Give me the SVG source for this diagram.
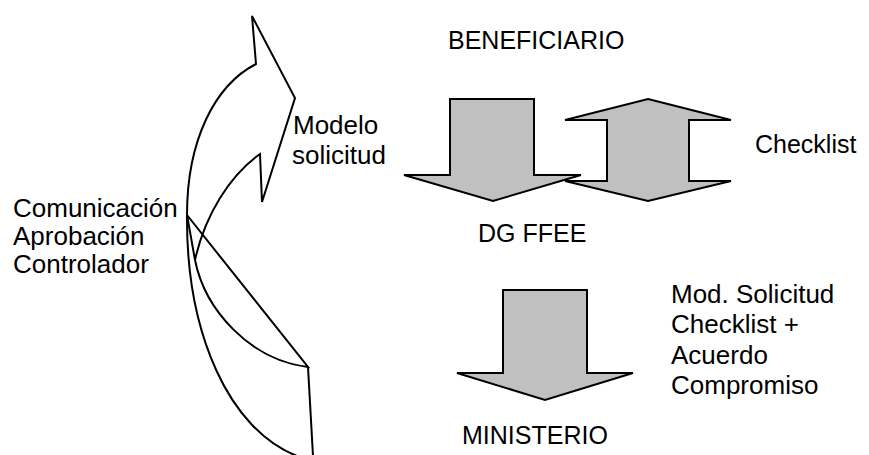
<svg xmlns="http://www.w3.org/2000/svg" width="869" height="455" viewBox="0 0 869 455">
<style>
.t{font-family:"Liberation Sans",Arial,sans-serif;font-size:25px;fill:#000}
.m{font-size:26px}
.blk{fill:#c0c0c0;stroke:#000;stroke-width:2;stroke-linejoin:miter}
.ln{fill:none;stroke:#000;stroke-width:2;stroke-linejoin:miter}
</style>
<rect width="869" height="455" fill="#fff"/>
<g id="curved-arrow">
<path class="ln" d="M256,64 L252,16 L295,98 L262,202 L260,154 C230,175 205,215 195,260 L187,215 C187,140 215,85 256,64 Z"/>
<path class="ln" d="M187,215 C186,335 230,430 297,456"/>
<path class="ln" d="M195,260 C205,310 250,360 308,367 L187,215"/>
<path class="ln" d="M308,367 L313,456"/>
</g>
<g id="arrow-beneficiario-dg">
<polygon class="blk" points="450,99 534,99 534,175 581,175 493,201 404,175 450,175"/>
</g>
<g id="arrow-checklist">
<polygon class="blk" points="648,99 731,120 689,120 689,181 731,181 648,201 565,181 607,181 607,120 565,120"/>
</g>
<g id="arrow-dg-ministerio">
<polygon class="blk" points="503,290 587,290 587,373 633,373 545,400 457,373 503,373"/>
</g>
<g id="labels">
<text class="t" x="448" y="49">BENEFICIARIO</text>
<text class="t m" x="293" y="134">Modelo</text>
<text class="t m" x="292" y="164">solicitud</text>
<text class="t" x="755" y="153">Checklist</text>
<text class="t" x="478" y="242">DG FFEE</text>
<text class="t m" x="671" y="303">Mod. Solicitud</text>
<text class="t m" x="671" y="333">Checklist +</text>
<text class="t m" x="671" y="364">Acuerdo</text>
<text class="t m" x="671" y="394">Compromiso</text>
<text class="t" x="462" y="444">MINISTERIO</text>
<text class="t m" x="13" y="217">Comunicación</text>
<text class="t m" x="13" y="245">Aprobación</text>
<text class="t m" x="13" y="273">Controlador</text>
</g>
</svg>
